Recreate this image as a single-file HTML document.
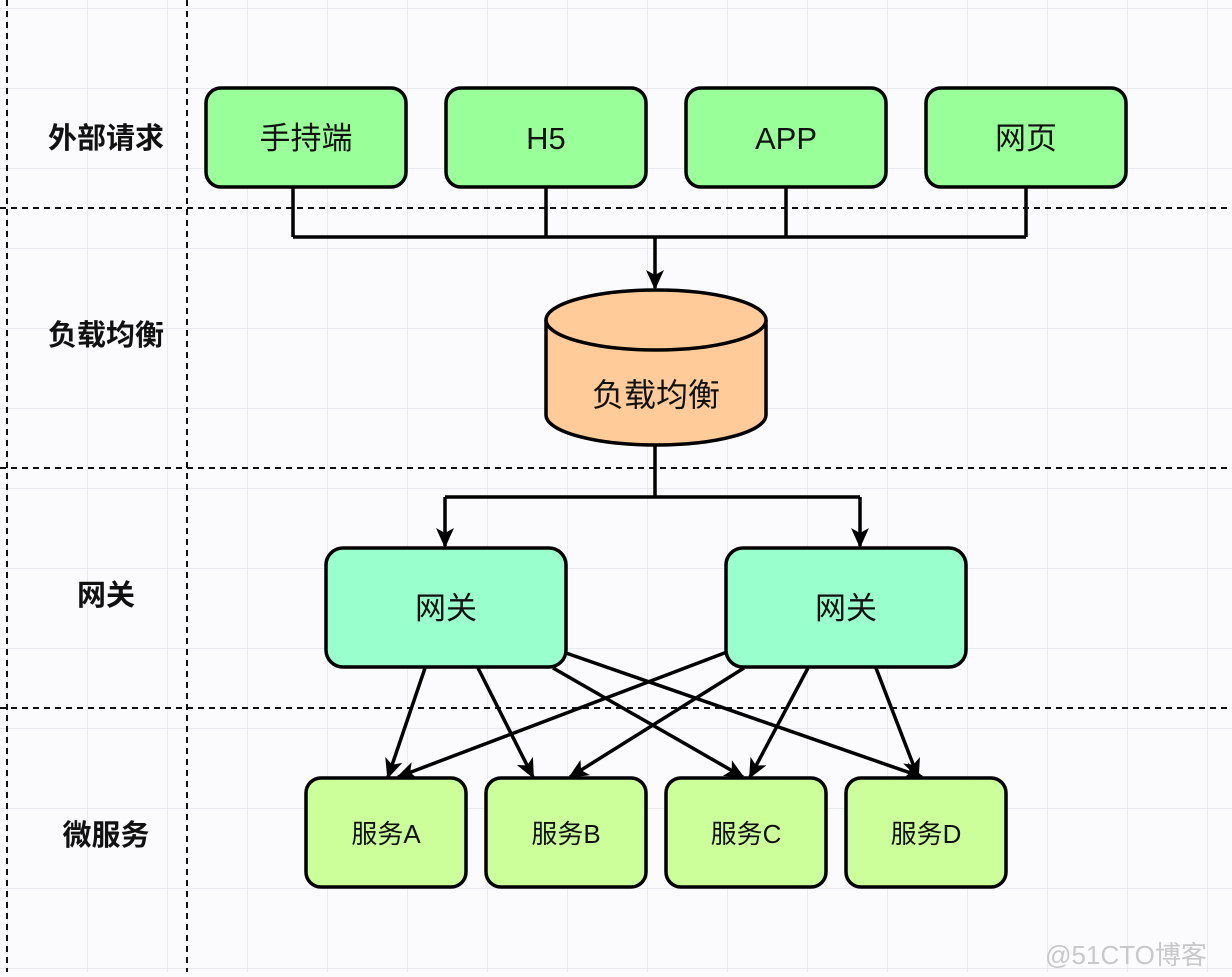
<!DOCTYPE html>
<html><head><meta charset="utf-8"><style>
body{margin:0;background:#fbfbfd;}
svg text{font-family:"Liberation Sans","Noto Sans CJK SC",sans-serif;}
</style></head><body>
<svg width="1232" height="972" xmlns="http://www.w3.org/2000/svg">
<defs>
<pattern id="g" x="7" y="8" width="80" height="80" patternUnits="userSpaceOnUse">
<path d="M0 0H80M0 0V80" stroke="#e3e3ec" stroke-width="1.5" fill="none"/>
</pattern>
<marker id="a" markerWidth="20" markerHeight="20" refX="18" refY="10" orient="auto" markerUnits="userSpaceOnUse" viewBox="0 0 20 20">
<path d="M0 1L20 10L0 19L5 10z" fill="#000"/>
</marker>
</defs>
<rect width="1232" height="972" fill="#fbfbfd"/>
<rect width="1232" height="972" fill="url(#g)"/>
<g stroke="#111" stroke-width="2" stroke-dasharray="6,5" fill="none">
<path d="M7 0V972M187 0V972M0 208H1232M0 468H1232M0 708H1232"/>
</g>
<g font-size="29" font-weight="bold" fill="#111" text-anchor="middle">
<text x="106" y="148">外部请求</text>
<text x="106" y="345">负载均衡</text>
<text x="106" y="605">网关</text>
<text x="106" y="845">微服务</text>
</g>
<g stroke="#000" stroke-width="3.5" fill="none">
<path d="M293 187V237M546 187V237M786 187V237M1026 187V237M293 237H1026"/>
<path d="M655 237V288" marker-end="url(#a)"/>
<path d="M655 446V497M445 497H860"/>
<path d="M445 497V546" marker-end="url(#a)"/>
<path d="M860 497V546" marker-end="url(#a)"/>
<path d="M425 668L388 777" marker-end="url(#a)"/>
<path d="M478 668L533 777" marker-end="url(#a)"/>
<path d="M553 668L743 777" marker-end="url(#a)"/>
<path d="M566 653L922 777" marker-end="url(#a)"/>
<path d="M727 652L398 777" marker-end="url(#a)"/>
<path d="M744 668L570 777" marker-end="url(#a)"/>
<path d="M808 668L750 777" marker-end="url(#a)"/>
<path d="M876 668L918 777" marker-end="url(#a)"/>
</g>
<g stroke="#000" stroke-width="3.5" fill="#99ff99">
<rect x="206" y="88" width="200" height="99" rx="15"/>
<rect x="446" y="88" width="200" height="99" rx="15"/>
<rect x="686" y="88" width="200" height="99" rx="15"/>
<rect x="926" y="88" width="200" height="99" rx="15"/>
</g>
<g font-size="31" fill="#111" text-anchor="middle">
<text x="306" y="149">手持端</text>
<text x="546" y="149">H5</text>
<text x="786" y="149">APP</text>
<text x="1026" y="149">网页</text>
</g>
<path d="M546 320V415A110 30 0 0 0 766 415V320" fill="#ffcc99" stroke="#000" stroke-width="3.5"/>
<ellipse cx="656" cy="320" rx="110" ry="30" fill="#ffcc99" stroke="#000" stroke-width="3.5"/>
<text x="656" y="406" font-size="32" text-anchor="middle" fill="#111">负载均衡</text>
<g stroke="#000" stroke-width="3.5" fill="#99ffcc">
<rect x="326" y="548" width="240" height="119" rx="17"/>
<rect x="726" y="548" width="240" height="119" rx="17"/>
</g>
<g font-size="31" fill="#111" text-anchor="middle">
<text x="446" y="619">网关</text>
<text x="846" y="619">网关</text>
</g>
<g stroke="#000" stroke-width="3.5" fill="#ccff99">
<rect x="306" y="778" width="160" height="109" rx="15"/>
<rect x="486" y="778" width="160" height="109" rx="15"/>
<rect x="666" y="778" width="160" height="109" rx="15"/>
<rect x="846" y="778" width="160" height="109" rx="15"/>
</g>
<g font-size="26" fill="#111" text-anchor="middle">
<text x="386" y="843">服务A</text>
<text x="566" y="843">服务B</text>
<text x="746" y="843">服务C</text>
<text x="926" y="843">服务D</text>
</g>
<text x="1126" y="964" font-size="26" fill="#c8c8c8" text-anchor="middle">@51CTO博客</text>
</svg>
</body></html>
